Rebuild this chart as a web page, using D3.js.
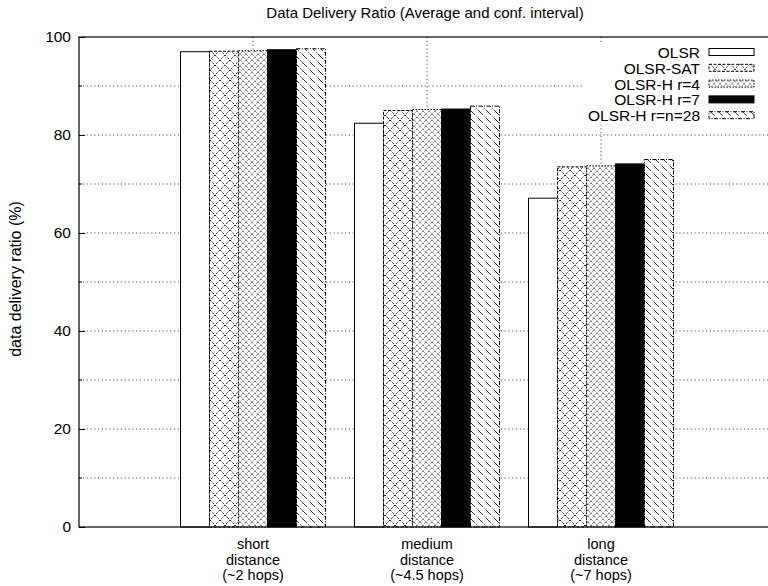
<!DOCTYPE html>
<html>
<head>
<meta charset="utf-8">
<script src="https://cdn.jsdelivr.net/npm/d3@7"></script>
<style>
  body { margin: 0; background: #fff }
  svg { display: block; font-family: 'Liberation Sans', Arial, Helvetica, sans-serif }
</style>
</head>
<body>
<svg id="chart" width="768" height="586"></svg>
<script>
'use strict'

// data
var categories = [
    ['short', 'distance', '(~2 hops)']
  , ['medium', 'distance', '(~4.5 hops)']
  , ['long', 'distance', '(~7 hops)']
]
var seriesNames = ['OLSR', 'OLSR-SAT', 'OLSR-H r=4', 'OLSR-H r=7', 'OLSR-H r=n=28']
var olsr    = [97.0, 82.4, 67.1]
var olsrSat = [97.1, 85.0, 73.5]
var olsrH4  = [97.2, 85.2, 73.7]
var olsrH7  = [97.4, 85.3, 74.1]
var olsrH28 = [97.6, 85.9, 75.0]
var yTicks = [0, 20, 40, 60, 80, 100]
var yGrid = [10, 20, 30, 40, 50, 60, 70, 80, 90]
var title = 'Data Delivery Ratio (Average and conf. interval)'
var yTitle = 'data delivery ratio (%)'

var series = [olsr, olsrSat, olsrH4, olsrH7, olsrH28]
// fill + border style per series (gnuplot-ish patterns)
var styles = [
    { fill: '#fff', dash: null }
  , { fill: 'url(#p-cross)', dash: '3,1.5' }
  , { fill: 'url(#p-dense)', dash: '1.5,1.5' }
  , { fill: '#000', dash: null }
  , { fill: 'url(#p-back)', dash: '4,1.5,1,1.5' }
]

var pl = 79, pr = 775, pt = 37, pb = 527
var fs = 15.5

var svg = d3.select('#chart')
var x = d3.scaleLinear().domain([-1, 3]).range([pl, pr])
var y = d3.scaleLinear().domain([0, 100]).range([pb, pt])
var bw = x(1 / 6) - x(0)

var defs = svg.append('defs')
function pattern(id, size, d, dash, sw) {
  var p = defs.append('pattern')
    .attr('id', id)
    .attr('patternUnits', 'userSpaceOnUse')
    .attr('width', size).attr('height', size)
  p.append('rect').attr('width', size).attr('height', size).attr('fill', '#fff')
  p.append('path').attr('d', d)
    .attr('stroke', '#000').attr('stroke-width', sw)
    .attr('stroke-dasharray', dash).attr('fill', 'none')
}
pattern('p-cross', 10, 'M0,0L10,10M10,0L0,10', '2,1.5', 0.85)
pattern('p-dense', 6, 'M0,0L6,6M6,0L0,6', '1,1.2', 0.7)
pattern('p-back', 8, 'M-2,6L2,10M0,0L8,8M6,-2L10,2', '4,1.5,1,1.5', 0.85)

// grid
var grid = svg.append('g')
  .attr('stroke', '#222').attr('stroke-width', 0.8)
  .attr('stroke-dasharray', '1.2,2.6')
grid.selectAll('line.h').data(yGrid).enter().append('line')
  .attr('class', 'h')
  .attr('x1', pl).attr('x2', pr)
  .attr('y1', function(d) { return y(d) })
  .attr('y2', function(d) { return y(d) })
grid.selectAll('line.v').data(categories).enter().append('line')
  .attr('class', 'v')
  .attr('y1', pt).attr('y2', pb)
  .attr('x1', function(d, i) { return x(i) })
  .attr('x2', function(d, i) { return x(i) })

// bars
var groups = svg.append('g').selectAll('g').data(series).enter().append('g')
groups.each(function(vals, j) {
  d3.select(this).selectAll('rect').data(vals).enter().append('rect')
    .attr('x', function(d, i) { return x(i) - 2.5 * bw + j * bw })
    .attr('y', function(d) { return y(d) })
    .attr('width', bw)
    .attr('height', function(d) { return y(0) - y(d) })
    .attr('fill', styles[j].fill)
    .attr('stroke', '#000')
    .attr('stroke-width', 1)
    .attr('stroke-dasharray', styles[j].dash)
})

// legend
var key = svg.append('g')
key.append('rect')
  .attr('x', 583).attr('y', 44).attr('width', 200).attr('height', 81)
  .attr('fill', '#fff')
var rows = key.selectAll('g').data(seriesNames).enter().append('g')
  .attr('transform', function(d, i) { return 'translate(0,' + (58 + i * 15.8) + ')' })
rows.append('text')
  .attr('x', 700).attr('text-anchor', 'end')
  .attr('font-size', fs)
  .text(function(d) { return d })
rows.append('rect')
  .attr('x', 709).attr('y', -9.5).attr('width', 45).attr('height', 7)
  .attr('fill', function(d, i) { return styles[i].fill })
  .attr('stroke', '#000').attr('stroke-width', 1)
  .attr('stroke-dasharray', function(d, i) { return styles[i].dash })

// frame
svg.append('rect')
  .attr('x', pl).attr('y', pt)
  .attr('width', pr - pl).attr('height', pb - pt)
  .attr('fill', 'none').attr('stroke', '#000').attr('stroke-width', 1.2)

// y axis, inward ticks
var yAxis = svg.append('g')
  .attr('transform', 'translate(' + pl + ',0)')
  .call(d3.axisLeft(y).tickValues(yTicks).tickSize(-6).tickPadding(8)
    .tickFormat(d3.format('d')))
yAxis.select('.domain').remove()
yAxis.selectAll('text').attr('font-size', fs)
  .attr('font-family', "'Liberation Sans', Arial, sans-serif").attr('fill', '#000')
svg.append('g').selectAll('line').data(yGrid.filter(function(d) { return d % 20 })).enter()
  .append('line')
  .attr('x1', pl).attr('x2', pl + 3)
  .attr('y1', function(d) { return y(d) }).attr('y2', function(d) { return y(d) })
  .attr('stroke', '#000')

// x labels, one text per line
var xl = svg.append('g').selectAll('g').data(categories).enter().append('g')
  .attr('transform', function(d, i) { return 'translate(' + x(i) + ',' + (pb + 22) + ')' })
xl.selectAll('text').data(function(d) { return d }).enter().append('text')
  .attr('text-anchor', 'middle')
  .attr('font-size', 14.5)
  .attr('y', function(d, k) { return k * 15.7 })
  .text(function(d) { return d })

// titles
svg.append('text')
  .attr('x', (pl + pr) / 2 - 2).attr('y', 18)
  .attr('text-anchor', 'middle').attr('font-size', 15)
  .text(title)
svg.append('text')
  .attr('transform', 'translate(21,' + ((pt + pb) / 2 - 3) + ') rotate(-90)')
  .attr('text-anchor', 'middle').attr('font-size', 16)
  .text(yTitle)
</script>
</body>
</html>
